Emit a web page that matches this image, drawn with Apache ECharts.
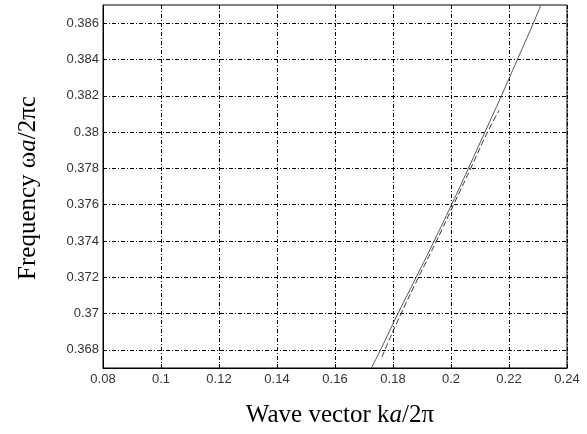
<!DOCTYPE html>
<html>
<head>
<meta charset="utf-8">
<script src="https://cdn.jsdelivr.net/npm/echarts@6/dist/echarts.min.js"></script>
<style>html,body{margin:0;padding:0;background:#fff;}#c{width:587px;height:434px;}</style>
</head>
<body>
<div id="c"></div>
<script>
// Tick values
const xTicks = [0.08, 0.1, 0.12, 0.14, 0.16, 0.18, 0.2, 0.22, 0.24];
const yTicks = [0.368, 0.37, 0.372, 0.374, 0.376, 0.378, 0.38, 0.382, 0.384, 0.386];
// Solid curve: [k, frequency]
const solidK = [0.1725, 0.1757, 0.1817, 0.1880, 0.1942, 0.2002, 0.2060, 0.2117, 0.2174, 0.2229, 0.2284, 0.2310];
const solidF = [0.367, 0.368, 0.370, 0.372, 0.374, 0.376, 0.378, 0.380, 0.382, 0.384, 0.386, 0.387];
// Dashed curve
const dashK = [0.1762, 0.1772, 0.1828, 0.1888, 0.1950, 0.2009, 0.2068, 0.2126, 0.2166];
const dashF = [0.3676, 0.368, 0.370, 0.372, 0.374, 0.376, 0.378, 0.380, 0.3812];

const chart = echarts.init(document.getElementById('c'), null, {renderer: 'canvas'});
const gridLine = {show: true, lineStyle: {color: '#000', width: 1, type: [4, 2, 1, 2]}};
const lbl = {color: '#333', fontFamily: 'Liberation Sans, Arial, sans-serif', fontSize: 13};
const serif = 'Liberation Serif, Times New Roman, serif';
chart.setOption({
  backgroundColor: '#fff',
  animation: false,
  grid: {left: 103, right: 20, top: 5, bottom: 66, show: true, borderColor: '#000', borderWidth: 1, backgroundColor: 'transparent'},
  xAxis: {
    type: 'value', min: 0.08, max: 0.24, interval: 0.02,
    axisLine: {show: true, lineStyle: {color: '#000', width: 1}},
    axisTick: {show: true, inside: true, length: 4, lineStyle: {color: '#000'}},
    axisLabel: Object.assign({margin: 5, formatter: v => String(+v.toFixed(3))}, lbl),
    splitLine: gridLine
  },
  yAxis: {
    type: 'value', min: 0.367, max: 0.387,
    axisLine: {show: true, lineStyle: {color: '#000', width: 1}},
    axisTick: {show: true, inside: true, length: 4, lineStyle: {color: '#000'}, customValues: yTicks},
    axisLabel: Object.assign({margin: 4, customValues: yTicks, formatter: v => String(+v.toFixed(3))}, lbl),
    splitLine: gridLine
  },
  graphic: [
    {type: 'text', x: 340, y: 415, style: {
      text: '{n|Wave vector k}{i|a}{n|/2π}', align: 'center', verticalAlign: 'middle',
      rich: {n: {fontFamily: serif, fontSize: 25, fill: '#000'},
             i: {fontFamily: serif, fontSize: 25, fontStyle: 'italic', fill: '#000'}}
    }},
    {type: 'text', x: 28, y: 188, rotation: Math.PI / 2, style: {
      text: '{n|Frequency ω}{i|a}{n|/2πc}', align: 'center', verticalAlign: 'middle',
      rich: {n: {fontFamily: serif, fontSize: 25, fill: '#000'},
             i: {fontFamily: serif, fontSize: 25, fontStyle: 'italic', fill: '#000'}}
    }}
  ],
  series: [
    {type: 'line', data: solidK.map((k, i) => [k, solidF[i]]), smooth: true, symbol: 'none',
     lineStyle: {color: '#555', width: 1}, clip: true},
    {type: 'line', data: dashK.map((k, i) => [k, dashF[i]]), smooth: true, symbol: 'none',
     lineStyle: {color: '#333', width: 1, type: [6, 3]}, clip: true}
  ]
});
</script>
</body>
</html>
